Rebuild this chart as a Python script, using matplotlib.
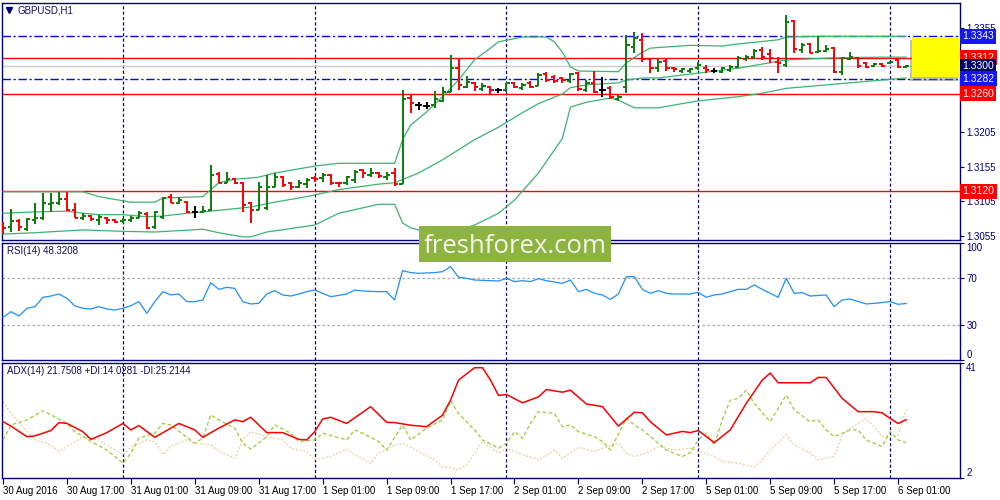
import matplotlib
matplotlib.use("Agg")
import matplotlib.pyplot as plt
import matplotlib.patheffects as pe
from matplotlib.collections import LineCollection
from matplotlib.patches import Rectangle
import numpy as np

plt.rcParams["font.family"] = ["Liberation Sans", "DejaVu Sans"]

# GBPUSD H1 bars, index 0 = 30 Aug 2016 09:00
opens = [
    1.3071, 1.3068, 1.3077, 1.3065, 1.3078, 1.3081, 1.3101, 1.3103, 1.3109, 1.3093,
    1.3081, 1.3084, 1.3078, 1.3081, 1.3078, 1.3077, 1.3078, 1.3081, 1.3087, 1.3068,
    1.3083, 1.3111, 1.3103, 1.3104, 1.3090, 1.3090, 1.3093, 1.3145, 1.3132, 1.3137,
    1.3132, 1.3103, 1.3093, 1.3096, 1.3126, 1.3140, 1.3132, 1.3126, 1.3130, 1.3139,
    1.3139, 1.3143, 1.3132, 1.3132, 1.3136, 1.3150, 1.3143, 1.3146, 1.3140, 1.3146,
    1.3130, 1.3254, 1.3244, 1.3243, 1.3244, 1.3250, 1.3263, 1.3297, 1.3270, 1.3276,
    1.3267, 1.3270, 1.3266, 1.3266, 1.3276, 1.3269, 1.3276, 1.3271, 1.3289, 1.3284,
    1.3283, 1.3279, 1.3290, 1.3266, 1.3276, 1.3266, 1.3269, 1.3253, 1.3270, 1.3327,
    1.3338, 1.3310, 1.3297, 1.3307, 1.3298, 1.3293, 1.3293, 1.3298, 1.3298, 1.3293,
    1.3292, 1.3294, 1.3299, 1.3310, 1.3313, 1.3323, 1.3318, 1.3306, 1.3302, 1.3365,
    1.3323, 1.3332, 1.3320, 1.3322, 1.3326, 1.3292, 1.3310, 1.3312, 1.3305, 1.3300,
    1.3303, 1.3305, 1.3309, 1.3299,
]
highs = [
    1.3075, 1.3094, 1.3080, 1.3081, 1.3103, 1.3117, 1.3117, 1.3119, 1.3119, 1.3103,
    1.3088, 1.3086, 1.3086, 1.3083, 1.3080, 1.3081, 1.3084, 1.3091, 1.3090, 1.3091,
    1.3111, 1.3116, 1.3111, 1.3106, 1.3098, 1.3098, 1.3158, 1.3147, 1.3147, 1.3139,
    1.3133, 1.3104, 1.3133, 1.3143, 1.3146, 1.3142, 1.3133, 1.3136, 1.3139, 1.3142,
    1.3146, 1.3145, 1.3133, 1.3142, 1.3150, 1.3152, 1.3153, 1.3147, 1.3147, 1.3153,
    1.3266, 1.3258, 1.3248, 1.3248, 1.3264, 1.3270, 1.3316, 1.3310, 1.3286, 1.3277,
    1.3276, 1.3271, 1.3268, 1.3276, 1.3277, 1.3276, 1.3279, 1.3290, 1.3292, 1.3287,
    1.3284, 1.3290, 1.3292, 1.3280, 1.3293, 1.3284, 1.3271, 1.3258, 1.3345, 1.3349,
    1.3348, 1.3312, 1.3310, 1.3310, 1.3299, 1.3297, 1.3297, 1.3306, 1.3302, 1.3297,
    1.3299, 1.3302, 1.3315, 1.3316, 1.3325, 1.3328, 1.3325, 1.3313, 1.3374, 1.3367,
    1.3333, 1.3333, 1.3344, 1.3330, 1.3328, 1.3313, 1.3320, 1.3313, 1.3306, 1.3305,
    1.3305, 1.3307, 1.3310, 1.3302,
]
lows = [
    1.3058, 1.3061, 1.3062, 1.3062, 1.3073, 1.3078, 1.3090, 1.3100, 1.3091, 1.3081,
    1.3078, 1.3077, 1.3071, 1.3073, 1.3074, 1.3074, 1.3075, 1.3081, 1.3065, 1.3065,
    1.3080, 1.3103, 1.3101, 1.3088, 1.3081, 1.3088, 1.3091, 1.3132, 1.3132, 1.3130,
    1.3090, 1.3074, 1.3093, 1.3093, 1.3126, 1.3126, 1.3122, 1.3124, 1.3124, 1.3133,
    1.3133, 1.3129, 1.3126, 1.3129, 1.3132, 1.3139, 1.3140, 1.3139, 1.3136, 1.3127,
    1.3130, 1.3232, 1.3237, 1.3238, 1.3240, 1.3248, 1.3263, 1.3266, 1.3269, 1.3264,
    1.3264, 1.3260, 1.3261, 1.3263, 1.3268, 1.3266, 1.3269, 1.3271, 1.3277, 1.3276,
    1.3276, 1.3276, 1.3264, 1.3263, 1.3261, 1.3256, 1.3253, 1.3250, 1.3261, 1.3319,
    1.3306, 1.3290, 1.3292, 1.3293, 1.3292, 1.3290, 1.3290, 1.3294, 1.3290, 1.3290,
    1.3290, 1.3292, 1.3297, 1.3307, 1.3310, 1.3309, 1.3305, 1.3290, 1.3299, 1.3319,
    1.3319, 1.3319, 1.3319, 1.3320, 1.3290, 1.3287, 1.3309, 1.3297, 1.3297, 1.3299,
    1.3299, 1.3303, 1.3297, 1.3297,
]
closes = [
    1.3067, 1.3077, 1.3068, 1.3080, 1.3081, 1.3103, 1.3103, 1.3109, 1.3093, 1.3081,
    1.3084, 1.3080, 1.3083, 1.3078, 1.3075, 1.3078, 1.3081, 1.3088, 1.3067, 1.3090,
    1.3110, 1.3103, 1.3107, 1.3090, 1.3090, 1.3091, 1.3143, 1.3132, 1.3137, 1.3132,
    1.3100, 1.3093, 1.3126, 1.3126, 1.3140, 1.3129, 1.3126, 1.3132, 1.3136, 1.3137,
    1.3143, 1.3132, 1.3131, 1.3140, 1.3147, 1.3146, 1.3146, 1.3142, 1.3143, 1.3130,
    1.3253, 1.3247, 1.3244, 1.3243, 1.3253, 1.3263, 1.3297, 1.3273, 1.3277, 1.3270,
    1.3271, 1.3266, 1.3266, 1.3276, 1.3270, 1.3273, 1.3270, 1.3287, 1.3280, 1.3279,
    1.3280, 1.3289, 1.3267, 1.3276, 1.3263, 1.3266, 1.3256, 1.3256, 1.3330, 1.3341,
    1.3310, 1.3297, 1.3306, 1.3297, 1.3296, 1.3296, 1.3296, 1.3302, 1.3294, 1.3293,
    1.3297, 1.3299, 1.3312, 1.3313, 1.3322, 1.3313, 1.3312, 1.3305, 1.3364, 1.3325,
    1.3330, 1.3319, 1.3322, 1.3325, 1.3292, 1.3312, 1.3313, 1.3300, 1.3299, 1.3303,
    1.3300, 1.3306, 1.3299, 1.3300,
]

# Bollinger bands (20), read at turning points
bb_up_idx = [0, 10, 12, 16, 19, 20, 25, 26, 27, 29, 32, 34, 39, 42, 49, 50, 51, 53, 55, 57,
             59, 61, 62, 65, 68, 69, 70, 71, 72, 77, 78, 80, 81, 86, 90, 92, 97, 98, 102, 113]
bb_up = [1.3119, 1.3119, 1.3112, 1.3104, 1.3104, 1.3110, 1.3112, 1.3122, 1.3132, 1.3137,
         1.3140, 1.3146, 1.3156, 1.3160, 1.3160, 1.3194, 1.3215, 1.3234, 1.3256, 1.3280,
         1.3309, 1.3326, 1.3335, 1.3342, 1.3342, 1.3335, 1.3320, 1.3299, 1.3293, 1.3292,
         1.3305, 1.3320, 1.3326, 1.3330, 1.3329, 1.3332, 1.3338, 1.3342, 1.3343, 1.3343]
bb_mid_idx = [0, 4, 8, 10, 12, 15, 18, 20, 23, 25, 31, 34, 38, 42, 47, 49, 52, 55, 59, 61,
              62, 65, 67, 70, 71, 73, 77, 78, 80, 82, 87, 92, 97, 98, 104, 110, 113]
bb_mid = [1.3088, 1.3090, 1.3091, 1.3088, 1.3086, 1.3086, 1.3083, 1.3084, 1.3088, 1.3090,
          1.3097, 1.3104, 1.3112, 1.3122, 1.3130, 1.3132, 1.3146, 1.3165, 1.3194, 1.3206,
          1.3212, 1.3233, 1.3246, 1.3260, 1.3269, 1.3273, 1.3276, 1.3280, 1.3283, 1.3283,
          1.3290, 1.3297, 1.3307, 1.3309, 1.3312, 1.3313, 1.3313]
bb_low_idx = [0, 4, 10, 15, 19, 25, 27, 30, 31, 33, 39, 42, 47, 49, 50, 51, 52, 55, 57, 59,
              62, 64, 67, 70, 71, 73, 76, 77, 79, 82, 87, 92, 95, 98, 103, 110, 113]
bb_low = [1.3058, 1.3060, 1.3064, 1.3062, 1.3061, 1.3065, 1.3060, 1.3054, 1.3054, 1.3061,
          1.3071, 1.3088, 1.3101, 1.3101, 1.3074, 1.3067, 1.3064, 1.3058, 1.3064, 1.3071,
          1.3088, 1.3107, 1.3146, 1.3196, 1.3241, 1.3248, 1.3254, 1.3251, 1.3240, 1.3240,
          1.3250, 1.3256, 1.3261, 1.3268, 1.3273, 1.3280, 1.3283]

# RSI(14)
rsi_idx = [0, 1, 2, 3, 4, 5, 6, 7, 8, 9, 10, 11, 12, 13, 14, 15, 16, 17, 18, 19,
           20, 21, 22, 23, 24, 25, 26, 27, 28, 29, 30, 31, 32, 33, 34, 35, 36, 37, 38, 39,
           40, 41, 43, 44, 45, 47, 48, 49, 50, 51, 52, 54, 55, 56, 57, 58, 59, 61, 62, 63,
           64, 65, 66, 67, 68, 70, 71, 72, 73, 74, 75, 76, 77, 78, 79, 80, 81, 82, 83, 84,
           86, 87, 88, 89, 90, 92, 93, 94, 95, 97, 98, 99, 100, 101, 103, 104, 105, 106, 108, 109,
           111, 112, 113]
rsi_val = [36.5, 41.3, 37.6, 44.2, 45.6, 53.6, 54.7, 56.4, 52.7, 46.2, 44.2, 43.6, 45.6, 43.6, 42.7, 44.2, 46.4, 49.9, 39.9, 49.9,
           58.4, 55.6, 56.4, 49.9, 49.9, 51.3, 66.1, 60.4, 62.1, 61.2, 49.9, 47.9, 48.4, 56.4, 59.3, 55.6, 54.7, 56.4, 58.4, 59.8,
           57.0, 54.1, 56.4, 59.8, 59.0, 58.4, 58.4, 51.3, 76.4, 74.7, 74.1, 74.7, 75.5, 79.8, 70.7, 69.8, 68.4, 67.8, 67.5, 69.8,
           67.0, 67.8, 67.0, 69.5, 67.8, 65.5, 68.4, 58.4, 60.4, 57.0, 55.6, 51.8, 56.4, 71.2, 71.2, 60.4, 57.0, 59.3, 57.0, 56.4,
           56.4, 57.8, 53.6, 55.6, 56.4, 60.4, 60.4, 64.1, 60.4, 53.6, 69.8, 57.0, 57.6, 54.7, 55.6, 45.6, 51.3, 52.1, 47.9, 48.4,
           49.9, 47.6, 48.32]
rsi_levels = [30, 70]

# ADX(14), +DI, -DI
adx_idx = [0, 1, 3, 4, 6, 7, 8, 10, 11, 13, 15, 16, 17, 19, 21, 22, 24, 25, 27, 29,
           30, 31, 33, 35, 37, 38, 39, 40, 41, 43, 46, 48, 49, 51, 53, 55, 56, 57, 59, 60,
           61, 62, 63, 65, 67, 68, 70, 71, 73, 75, 77, 79, 80, 81, 83, 85, 86, 87, 89, 91,
           93, 95, 96, 97, 101, 102, 103, 105, 107, 109, 110, 111, 112, 113]
adx_val = [21.1, 19.6, 16.0, 16.3, 18.1, 20.8, 20.5, 17.7, 15.1, 17.4, 20.5, 18.3, 19.8, 15.8, 18.9, 20.5, 18.3, 15.8, 18.9, 21.7,
           21.1, 22.6, 17.4, 17.4, 15.1, 14.9, 17.7, 22.0, 22.6, 20.5, 26.2, 20.9, 20.8, 19.9, 19.4, 23.3, 28.4, 35.2, 39.4, 39.4,
           35.2, 30.0, 30.3, 27.5, 29.5, 32.0, 31.1, 31.8, 27.1, 26.2, 19.6, 24.3, 24.1, 21.1, 16.6, 17.8, 17.4, 18.1, 14.0, 18.3,
           27.3, 35.2, 37.6, 34.3, 34.3, 36.1, 36.1, 29.0, 24.5, 24.5, 24.1, 22.2, 20.5, 21.75]
pdi_idx = [0, 1, 3, 5, 6, 8, 9, 11, 13, 14, 15, 16, 17, 19, 20, 21, 23, 24, 25, 26,
           27, 29, 30, 31, 33, 34, 36, 37, 39, 40, 43, 44, 45, 47, 48, 50, 51, 53, 55, 56,
           57, 59, 60, 62, 63, 64, 65, 66, 67, 69, 70, 71, 72, 74, 75, 76, 78, 79, 80, 82,
           83, 85, 86, 87, 88, 89, 90, 91, 92, 93, 94, 96, 98, 99, 101, 102, 103, 104, 106, 107,
           108, 110, 111, 112, 113]
pdi_val = [14.9, 20.0, 21.7, 24.8, 23.4, 20.5, 17.7, 14.4, 11.5, 9.3, 7.0, 10.4, 15.5, 17.2, 20.5, 20.0, 15.8, 13.8, 15.5, 23.4,
           21.7, 18.9, 13.8, 11.8, 16.0, 20.0, 17.2, 14.4, 14.9, 17.2, 14.9, 18.3, 17.2, 14.4, 11.5, 20.0, 14.9, 18.9, 21.7, 28.2,
           23.9, 18.3, 14.9, 12.1, 13.8, 17.7, 15.5, 20.5, 24.5, 23.9, 19.4, 20.0, 17.7, 16.0, 14.4, 11.5, 22.2, 20.0, 18.3, 13.8,
           11.5, 9.3, 10.6, 14.9, 17.2, 13.2, 21.7, 28.4, 29.0, 31.8, 27.3, 21.1, 30.1, 25.1, 21.1, 21.7, 18.3, 16.0, 18.3, 18.3,
           14.9, 12.7, 17.7, 14.9, 14.03]
mdi_idx = [0, 1, 3, 4, 6, 7, 8, 10, 12, 13, 15, 16, 18, 19, 20, 21, 23, 24, 26, 27,
           29, 30, 31, 33, 35, 36, 38, 39, 41, 43, 44, 46, 47, 49, 50, 52, 54, 55, 57, 58,
           60, 62, 63, 65, 67, 69, 70, 72, 74, 75, 77, 78, 79, 81, 82, 84, 86, 87, 89, 90,
           92, 94, 95, 96, 98, 99, 101, 102, 104, 105, 106, 108, 109, 110, 112, 113]
mdi_val = [27.8, 23.9, 17.7, 14.9, 13.2, 11.0, 12.7, 16.0, 14.9, 13.2, 9.9, 12.4, 14.9, 14.3, 9.9, 12.7, 14.9, 13.8, 13.2, 11.0,
           8.7, 14.9, 17.7, 16.0, 14.9, 12.1, 11.0, 8.2, 9.3, 11.8, 9.9, 7.0, 10.4, 13.2, 13.8, 11.0, 8.2, 5.9, 4.8, 6.5,
           14.3, 10.4, 12.1, 9.9, 8.2, 11.5, 8.7, 12.4, 11.0, 12.1, 13.8, 10.4, 9.3, 11.0, 12.7, 11.5, 12.1, 11.0, 9.3, 7.6,
           7.0, 5.7, 8.2, 11.5, 16.6, 13.2, 10.4, 8.2, 9.3, 16.6, 18.9, 22.2, 19.4, 16.0, 16.6, 25.21]

# time axis
time_idx = [0, 8, 16, 24, 32, 40, 48, 56, 64, 72, 80, 88, 96, 104, 112]
time_labels = ["30 Aug 2016", "30 Aug 17:00", "31 Aug 01:00", "31 Aug 09:00", "31 Aug 17:00",
               "1 Sep 01:00", "1 Sep 09:00", "1 Sep 17:00", "2 Sep 01:00", "2 Sep 09:00",
               "2 Sep 17:00", "5 Sep 01:00", "5 Sep 09:00", "5 Sep 17:00", "6 Sep 01:00"]
day_idx = [15, 39, 63, 87, 111]

# drawn levels and price axis (1.3305 / 1.3255 sit under the price tags)
blue_levels = [1.3343, 1.3282]
red_levels = [1.3312, 1.3260, 1.3120]
bid_price = 1.3300
price_ticks = [1.3055, 1.3105, 1.3155, 1.3205, 1.3355]
price_tags = [("1.3343", 1.3343, "#1414ff"), ("1.3312", 1.3312, "#ff0000"),
              ("1.3300", 1.3300, "#00006e"), ("1.3282", 1.3282, "#1414ff"),
              ("1.3260", 1.3260, "#ff0000"), ("1.3120", 1.3120, "#ff0000")]
zone_start, zone_low, zone_high = 113.75, 1.3284, 1.3342

NAVY = "#000080"
UP, DOWN, DOJI = "#0a7d0a", "#ff0000", "#000000"
XLIM = (-0.125, 119.75)

fig = plt.figure(figsize=(10, 5), dpi=100)
fig.patch.set_facecolor("white")


def panel(top, bottom, left=2, right=960):
    return fig.add_axes([left / 1000, 1 - bottom / 500, (right - left) / 1000, (bottom - top) / 500])


ax_p = panel(3, 240)
ax_r = panel(243, 360)
ax_a = panel(363, 478)

for ax in (ax_p, ax_r, ax_a):
    ax.set_xlim(*XLIM)
    for s in ax.spines.values():
        s.set_color(NAVY)
        s.set_linewidth(1.0)
    ax.yaxis.tick_right()
    ax.tick_params(axis="y", direction="out", length=3, width=0.8, color=NAVY,
                   labelcolor=NAVY, labelsize=7, pad=1.5)
    for d in day_idx:
        ax.axvline(d, color=NAVY, lw=0.9, ls=(0, (2.5, 1.8)), zorder=1)
ax_p.tick_params(axis="x", bottom=False, labelbottom=False)
ax_r.tick_params(axis="x", bottom=False, labelbottom=False)

# ---- main price panel
ax_p.set_ylim(1.30495, 1.3391)
ax_p.set_yticks(price_ticks)
ax_p.set_yticklabels([f"{p:.4f}" for p in price_ticks])

ax_p.axhline(bid_price, color="#cccccc", lw=1.0, zorder=1)
for lv in red_levels:
    ax_p.axhline(lv, color="#ff0000", lw=1.0, zorder=2)
for lv in blue_levels:
    ax_p.axhline(lv, color="#0000ff", lw=1.0, ls=(0, (6, 2, 1.5, 2)), zorder=2)

for xs, ys in ((bb_up_idx, bb_up), (bb_mid_idx, bb_mid), (bb_low_idx, bb_low)):
    ax_p.plot(xs, ys, color="#3cb371", lw=0.9, zorder=3)

segs, cols = [], []
for i, (o, h, l, c) in enumerate(zip(opens, highs, lows, closes)):
    col = DOJI if np.isclose(o, c) else (UP if c > o else DOWN)
    segs += [[(i, l), (i, h)], [(i - 0.4, o), (i, o)], [(i, c), (i + 0.4, c)]]
    cols += [col] * 3
ax_p.add_collection(LineCollection(segs, colors=cols, linewidths=1.4, zorder=4))

zone = Rectangle((zone_start, zone_low), XLIM[1] - zone_start, zone_high - zone_low,
                 facecolor="#ffff00", edgecolor="none", zorder=5)
zone.set_path_effects([pe.SimplePatchShadow(offset=(-1.5, -2.5), shadow_rgbFace="#777777", alpha=0.45),
                       pe.Normal()])
ax_p.add_patch(zone)

ytr = ax_p.get_yaxis_transform()
for txt, lv, fc in price_tags:
    ax_p.text(1.0022, lv, txt, transform=ytr, ha="left", va="center", fontsize=7.5, color="white",
              bbox=dict(boxstyle="square,pad=0.24", fc=fc, ec="none"), zorder=10, clip_on=False)

ax_p.plot([0.0075], [0.97], transform=ax_p.transAxes, marker="v", ms=4.5, color=NAVY,
          linestyle="none", clip_on=False)
ax_p.text(0.0167, 0.97, "GBPUSD,H1", transform=ax_p.transAxes, ha="left", va="center",
          fontsize=7, color="#101060")

# ---- RSI panel
ax_r.set_ylim(0, 100)
ax_r.set_yticks([0, 30, 70, 100])
rlabels = ax_r.set_yticklabels(["0", "30", "70", "100"])
rlabels[0].set_verticalalignment("bottom")
rlabels[-1].set_verticalalignment("top")
for lv in rsi_levels:
    ax_r.axhline(lv, color="#a8a8a8", lw=0.9, ls=(0, (2, 2)), zorder=1)
ax_r.plot(rsi_idx, rsi_val, color="#1e90ff", lw=0.9, zorder=3)
ax_r.text(0.005, 0.93, "RSI(14) 48.3208", transform=ax_r.transAxes, ha="left", va="center",
          fontsize=7, color="#101060")

# ---- ADX panel
ax_a.set_ylim(2, 41)
ax_a.set_yticks([2, 41])
alabels = ax_a.set_yticklabels(["2", "41"])
alabels[0].set_verticalalignment("bottom")
alabels[-1].set_verticalalignment("top")
ax_a.plot(mdi_idx, mdi_val, color="#f2cc98", lw=0.9, ls=(0, (1.5, 1.5)), zorder=2)
ax_a.plot(pdi_idx, pdi_val, color="#9acd32", lw=0.9, ls=(0, (3, 2)), zorder=3)
ax_a.plot(adx_idx, adx_val, color="#ff0000", lw=1.1, zorder=4)
ax_a.text(0.005, 0.93, "ADX(14) 21.7508 +DI:14.0281 -DI:25.2144", transform=ax_a.transAxes,
          ha="left", va="center", fontsize=7, color="#101060")

ax_a.set_xticks(time_idx)
ax_a.set_xticklabels(time_labels, ha="left")
ax_a.tick_params(axis="x", direction="out", length=4, width=0.8, color=NAVY,
                 labelcolor="#000000", labelsize=7, pad=2)

# ---- watermark
fig.add_artist(Rectangle((419 / 1000, 1 - 262 / 500), 192 / 1000, 36 / 500,
                         transform=fig.transFigure, facecolor="#8db441", edgecolor="none", zorder=5))
fig.text(515 / 1000, 1 - 253 / 500, "freshforex.com", ha="center", va="baseline",
         fontsize=18.5, color="#f3f7ea", family="Open Sans", zorder=6)

fig.savefig("out.png", dpi=100)
